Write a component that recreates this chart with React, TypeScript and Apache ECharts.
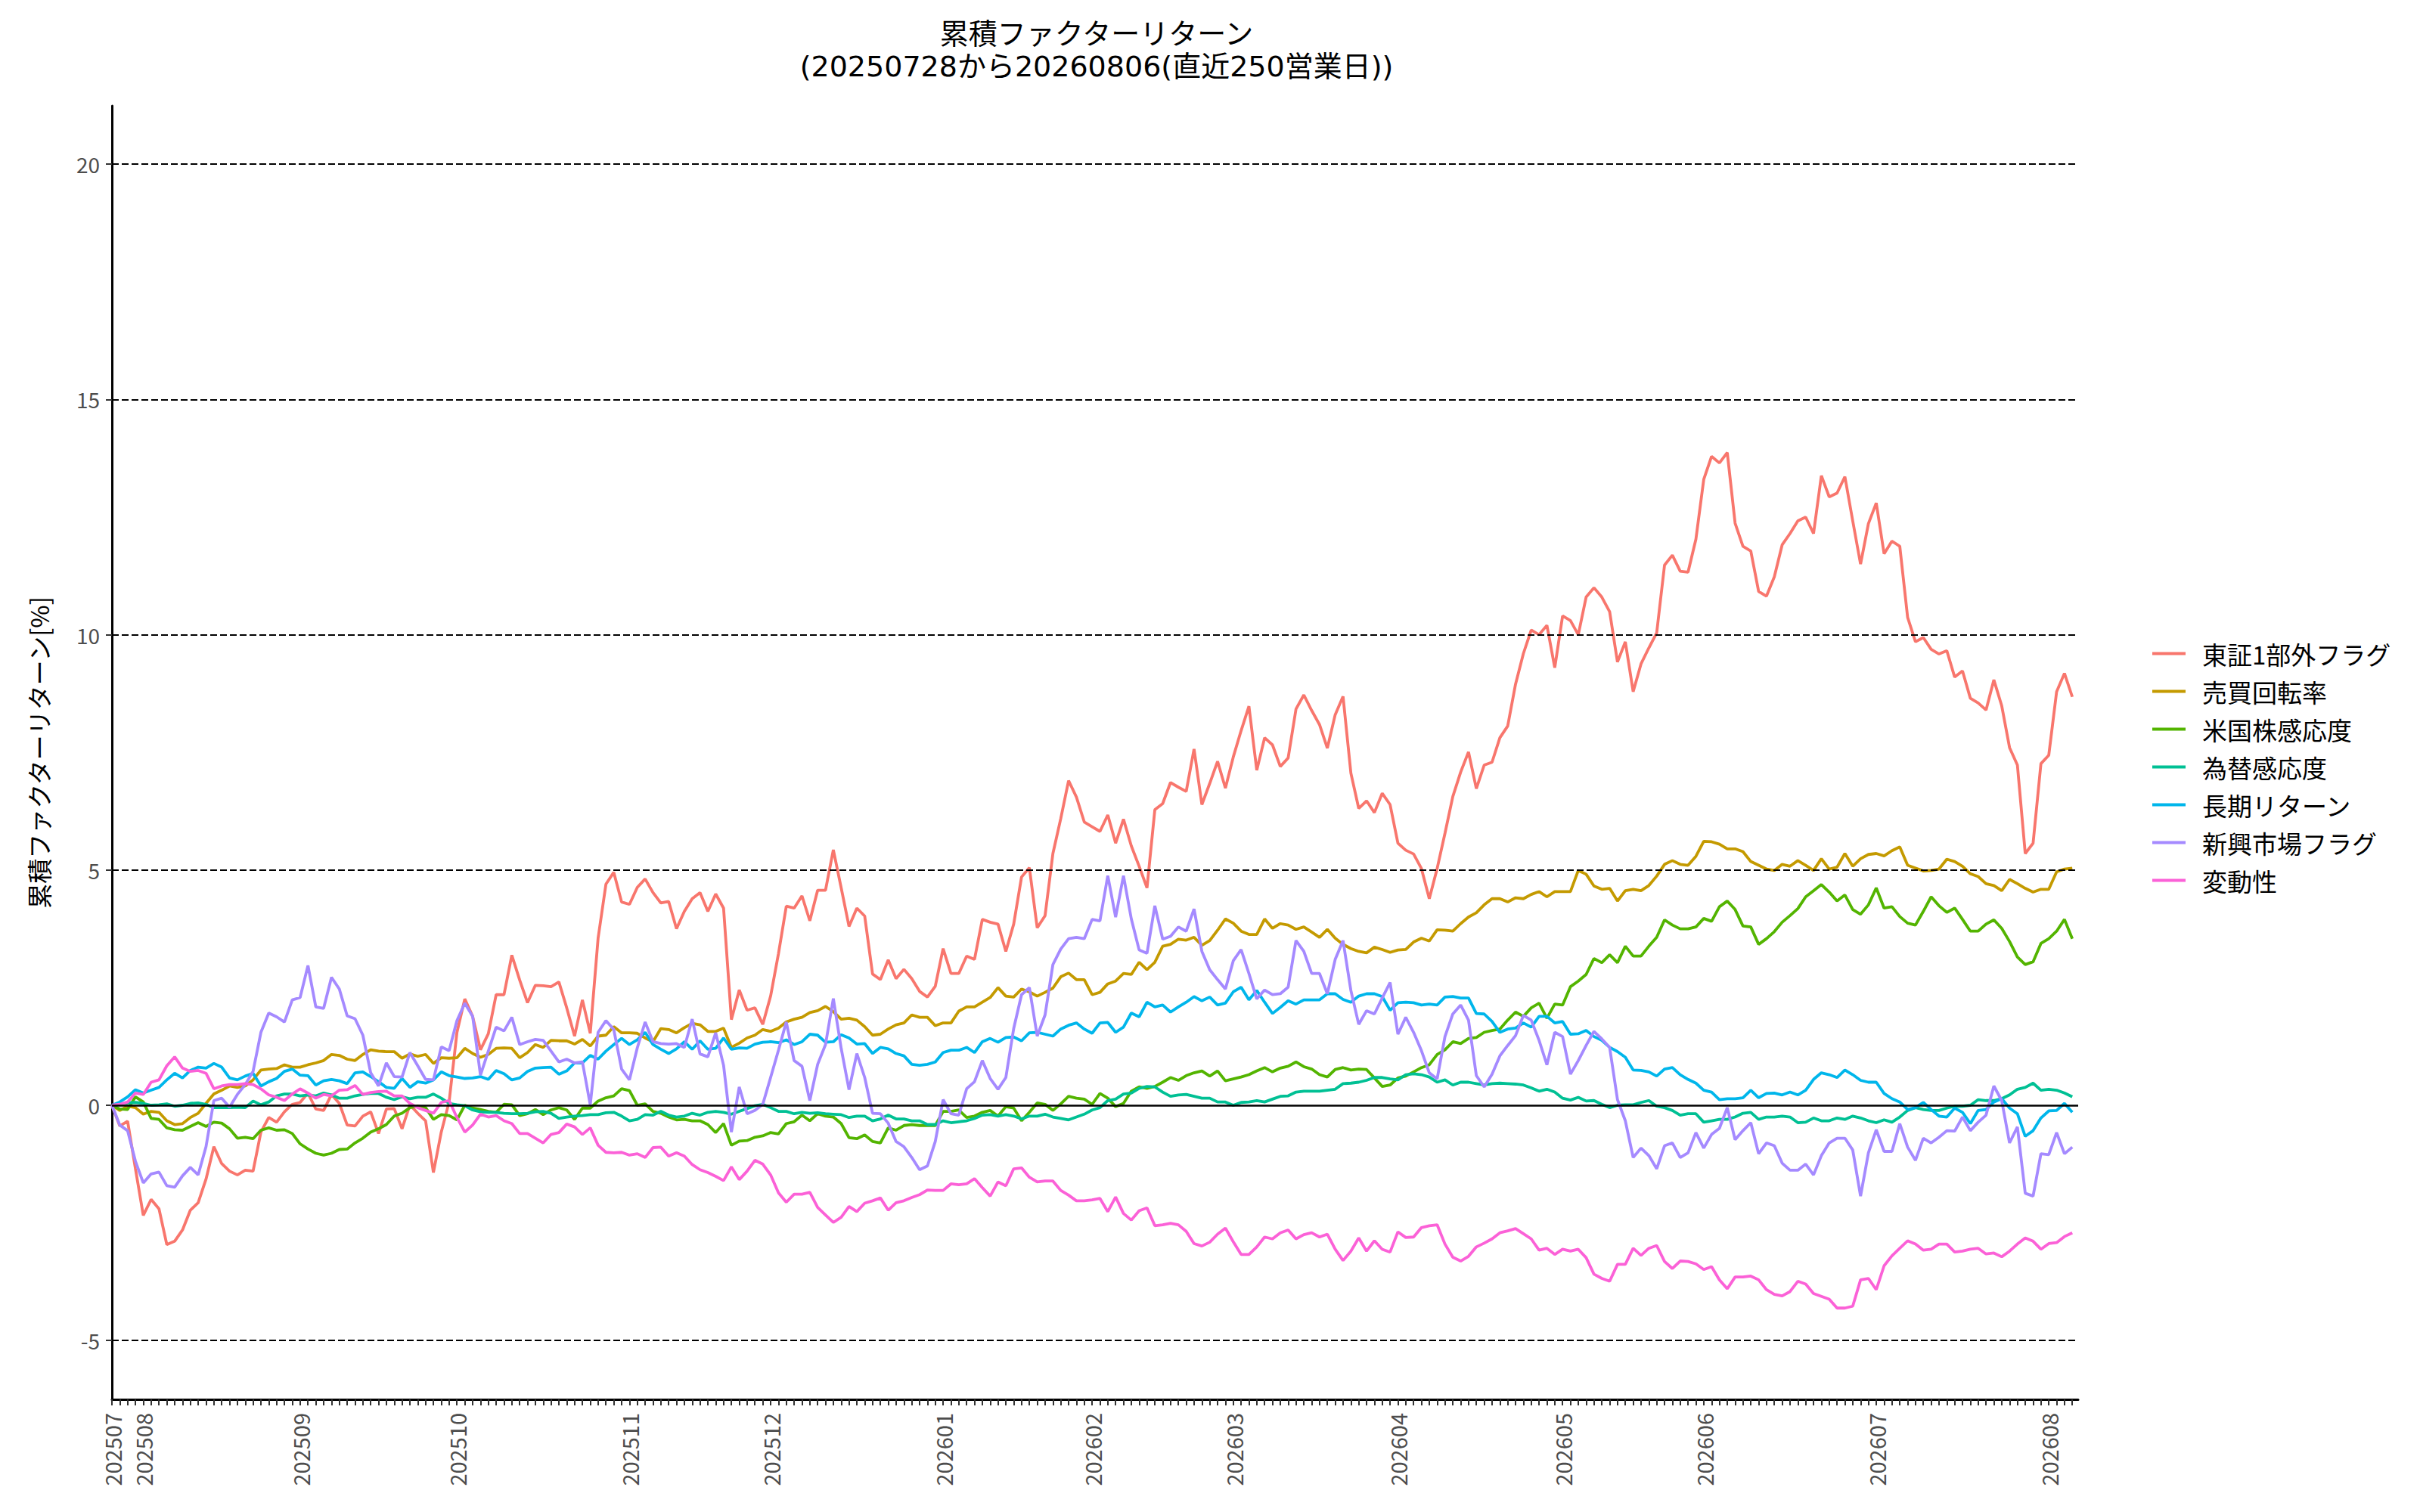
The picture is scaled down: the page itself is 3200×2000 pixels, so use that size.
import React, { useEffect, useRef } from 'react';
import * as echarts from 'echarts';

const FONT = '"Noto Sans CJK JP", "Noto Sans", sans-serif';
const TITLE_FONT = '"DejaVu Sans", "Noto Sans CJK JP", sans-serif';

const TITLE_1 = '累積ファクターリターン';
const TITLE_2 = '(20250728から20260806(直近250営業日))';
const Y_NAME = '累積ファクターリターン[%]';

const FACTORS = ['東証1部外フラグ', '売買回転率', '米国株感応度', '為替感応度', '長期リターン', '新興市場フラグ', '変動性'];
const COLORS = ['#F8766D', '#C49A00', '#53B400', '#00C094', '#00B6EB', '#A58AFF', '#FB61D7'];

const MONTH_LABELS = ['202507', '202508', '202509', '202510', '202511', '202512', '202601', '202602', '202603', '202604', '202605', '202606', '202607', '202608'];
const MONTH_DAYS = [4, 20, 20, 22, 18, 22, 19, 18, 21, 21, 18, 22, 22, 4];

const Y_TICKS = [-5, 0, 5, 10, 15, 20];
const Y_GRID = [-5, 5, 10, 15, 20];

const tosho = [
  0, -0.44, -0.34, -1.35, -2.34, -2.0, -2.2, -2.96, -2.89, -2.65,
  -2.23, -2.07, -1.57, -0.88, -1.24, -1.40, -1.48, -1.38, -1.40, -0.57,
  -0.26, -0.36, -0.14, 0.02, 0.06, 0.26, -0.08, -0.11, 0.23, 0.04,
  -0.42, -0.44, -0.23, -0.14, -0.60, -0.08, -0.07, -0.50, 0.01, -0.17,
  -0.33, -1.43, -0.57, 0.07, 1.55, 2.26, 1.89, 1.18, 1.52, 2.35,
  2.35, 3.19, 2.66, 2.18, 2.55, 2.54, 2.52, 2.62, 2.07, 1.47,
  2.24, 1.53, 3.55, 4.7,
  4.95, 4.32, 4.27, 4.63, 4.81, 4.52, 4.3, 4.33, 3.75, 4.12,
  4.39, 4.52, 4.12, 4.49, 4.19, 1.82, 2.45, 2.02, 2.07, 1.72,
  2.32, 3.22, 4.23, 4.19, 4.45, 3.92, 4.57, 4.57, 5.43, 4.62,
  3.80, 4.19, 4.02, 2.79, 2.67, 3.09, 2.69, 2.89, 2.69, 2.42,
  2.30, 2.53, 3.33, 2.80, 2.80, 3.17, 3.10, 3.95, 3.89, 3.85,
  3.27, 3.85, 4.85, 5.05, 3.77, 4.03, 5.35, 6.09, 6.9, 6.55,
  6.02, 5.92, 5.82,
  6.17, 5.57, 6.08, 5.51, 5.08, 4.62, 6.28, 6.41, 6.86, 6.76,
  6.67, 7.57, 6.39, 6.84, 7.31, 6.74, 7.40, 7.96, 8.48, 7.12,
  7.81, 7.66, 7.20, 7.38, 8.42, 8.72, 8.39, 8.09, 7.59, 8.30,
  8.69, 7.06, 6.31, 6.47, 6.22, 6.63, 6.39, 5.57, 5.42, 5.34,
  5.03, 4.39, 5.03, 5.78, 6.56, 7.08, 7.51, 6.73, 7.23, 7.29,
  7.81, 8.06, 8.95, 9.60,
  10.1, 10.0, 10.2, 9.3, 10.4, 10.3, 10.0, 10.8, 11.0, 10.8,
  10.49, 9.42, 9.85, 8.79, 9.38, 9.72, 10.04, 11.48, 11.69, 11.35,
  11.33, 12.03, 13.30, 13.79, 13.65, 13.87, 12.37, 11.88, 11.78, 10.92,
  10.82, 11.23, 11.91, 12.15, 12.42, 12.50, 12.15, 13.38, 12.93, 13.01,
  13.36, 12.42, 11.50, 12.36, 12.80, 11.72, 11.99, 11.88, 10.37, 9.85,
  9.94, 9.69, 9.59, 9.66, 9.10, 9.23, 8.65, 8.55, 8.40, 9.04,
  8.49, 7.60, 7.23, 5.35, 5.57, 7.26, 7.44, 8.79, 9.18, 8.68,
];

const baibai = [
  0, -0.11, -0.02, -0.05, -0.19, -0.13, -0.15, -0.33, -0.41, -0.39,
  -0.26, -0.17, 0.04, 0.24, 0.32, 0.41, 0.38, 0.41, 0.54, 0.75,
  0.77, 0.78, 0.86, 0.81, 0.81, 0.86, 0.90, 0.95, 1.08, 1.06,
  0.98, 0.95, 1.08, 1.18, 1.15, 1.14, 1.14, 1.0, 1.09, 1.04,
  1.08, 0.89, 1.01, 1.0, 1.01, 1.21, 1.10, 1.02, 1.08, 1.21,
  1.22, 1.21, 1.01, 1.12, 1.29, 1.23, 1.38, 1.37, 1.37, 1.30,
  1.40, 1.26, 1.47, 1.49,
  1.67, 1.54, 1.54, 1.53, 1.43, 1.35, 1.63, 1.61, 1.54, 1.65,
  1.74, 1.71, 1.57, 1.57, 1.64, 1.23, 1.32, 1.43, 1.49, 1.61,
  1.57, 1.64, 1.77, 1.83, 1.87, 1.97, 2.01, 2.10, 1.99, 1.83,
  1.85, 1.81, 1.67, 1.49, 1.51, 1.62, 1.71, 1.75, 1.92, 1.87,
  1.87, 1.69, 1.75, 1.75, 2.0, 2.09, 2.09, 2.19, 2.29, 2.5,
  2.32, 2.30, 2.47, 2.41, 2.32, 2.40, 2.49, 2.73, 2.81, 2.67,
  2.67, 2.35, 2.40,
  2.58, 2.64, 2.80, 2.78, 3.04, 2.88, 3.04, 3.38, 3.42, 3.53,
  3.51, 3.57, 3.40, 3.50, 3.72, 3.96, 3.87, 3.70, 3.63, 3.63,
  3.96, 3.76, 3.86, 3.83, 3.74, 3.79, 3.68, 3.57, 3.74, 3.55,
  3.42, 3.33, 3.27, 3.24, 3.36, 3.31, 3.25, 3.30, 3.31, 3.47,
  3.55, 3.49, 3.73, 3.72, 3.70, 3.86, 4.0, 4.09, 4.26, 4.39,
  4.39, 4.32, 4.41, 4.39, 4.48, 4.54, 4.43, 4.54, 4.54, 4.54,
  4.99, 4.91, 4.66, 4.59,
  4.61, 4.34, 4.56, 4.59, 4.56, 4.67, 4.87, 5.12, 5.20, 5.12,
  5.10, 5.29, 5.61, 5.60, 5.55, 5.45, 5.45, 5.39, 5.18, 5.10,
  5.02, 4.99, 5.12, 5.08, 5.20, 5.10, 4.99, 5.24, 5.02, 5.06,
  5.35, 5.08, 5.24, 5.33, 5.35, 5.30, 5.41, 5.49, 5.10, 5.04,
  4.98, 4.99, 5.02, 5.23, 5.18, 5.08, 4.92, 4.86, 4.71, 4.67,
  4.56, 4.80, 4.71, 4.61, 4.53, 4.59, 4.59, 4.96, 5.02, 5.04,
];

const beikoku = [
  0, -0.08, -0.09, 0.18, 0.07, -0.28, -0.30, -0.48, -0.52, -0.53,
  -0.45, -0.37, -0.45, -0.36, -0.38, -0.50, -0.70, -0.68, -0.71, -0.53,
  -0.48, -0.53, -0.52, -0.60, -0.82, -0.93, -1.02, -1.06, -1.02, -0.94,
  -0.93, -0.80, -0.70, -0.57, -0.50, -0.41, -0.23, -0.17, -0.05, -0.02,
  -0.05, -0.30, -0.20, -0.22, -0.31, 0, -0.06, -0.09, -0.13, -0.15,
  0.02, 0.01, -0.22, -0.18, -0.09, -0.20, -0.10, -0.05, -0.10, -0.30,
  -0.06, -0.06, 0.09, 0.16,
  0.2, 0.35, 0.31, 0.0, 0.03, -0.13, -0.17, -0.25, -0.31, -0.30,
  -0.33, -0.33, -0.41, -0.58, -0.39, -0.85, -0.76, -0.75, -0.68, -0.65,
  -0.58, -0.61, -0.39, -0.35, -0.21, -0.33, -0.18, -0.23, -0.25, -0.39,
  -0.69, -0.71, -0.63, -0.77, -0.80, -0.48, -0.53, -0.43, -0.41, -0.43,
  -0.43, -0.43, -0.13, -0.13, -0.10, -0.26, -0.23, -0.15, -0.11, -0.23,
  -0.03, -0.06, -0.33, -0.15, 0.05, 0.02, -0.11, 0.03, 0.19, 0.15,
  0.13, 0.02, 0.25,
  0.15, -0.03, 0.04, 0.30, 0.39, 0.36, 0.40, 0.49, 0.59, 0.53,
  0.63, 0.69, 0.73, 0.62, 0.73, 0.52, 0.56, 0.60, 0.65, 0.73,
  0.80, 0.71, 0.79, 0.83, 0.92, 0.82, 0.77, 0.65, 0.60, 0.76,
  0.80, 0.75, 0.77, 0.76, 0.58, 0.40, 0.43, 0.58, 0.62, 0.71,
  0.80, 0.86, 1.08, 1.18, 1.35, 1.31, 1.42, 1.44, 1.55, 1.59,
  1.62, 1.81, 1.98, 1.89, 2.07, 2.17, 1.85, 2.15, 2.13, 2.52,
  2.64, 2.78, 3.12, 3.03,
  3.20, 3.03, 3.38, 3.17, 3.17, 3.38, 3.57, 3.94, 3.83, 3.75,
  3.75, 3.79, 3.97, 3.91, 4.22, 4.34, 4.16, 3.81, 3.79, 3.42,
  3.54, 3.69, 3.89, 4.03, 4.18, 4.43, 4.56, 4.69, 4.53, 4.34,
  4.47, 4.16, 4.06, 4.26, 4.62, 4.19, 4.22, 4.01, 3.87, 3.83,
  4.12, 4.43, 4.24, 4.10, 4.19, 3.95, 3.70, 3.70, 3.85, 3.94,
  3.76, 3.48, 3.15, 2.99, 3.05, 3.44, 3.54, 3.70, 3.95, 3.54,
];

const kawase = [
  0, 0.02, 0.05, 0.06, 0.04, 0.0, 0.01, 0.03, -0.02, 0.0,
  0.04, 0.05, 0.02, -0.05, -0.05, -0.05, -0.04, -0.05, 0.09, 0.01,
  0.07, 0.2, 0.24, 0.24, 0.20, 0.22, 0.20, 0.26, 0.22, 0.15,
  0.15, 0.20, 0.23, 0.25, 0.25, 0.17, 0.12, 0.18, 0.14, 0.17,
  0.17, 0.24, 0.15, 0.04, 0.01, -0.01, -0.10, -0.14, -0.15, -0.15,
  -0.17, -0.18, -0.18, -0.17, -0.14, -0.13, -0.17, -0.28, -0.25, -0.23,
  -0.22, -0.20, -0.20, -0.16,
  -0.15, -0.23, -0.33, -0.30, -0.20, -0.21, -0.13, -0.21, -0.25, -0.23,
  -0.17, -0.21, -0.15, -0.13, -0.15, -0.19, -0.13, -0.07, -0.01, 0.02,
  -0.05, -0.13, -0.13, -0.18, -0.15, -0.17, -0.16, -0.18, -0.19, -0.20,
  -0.26, -0.23, -0.23, -0.33, -0.29, -0.21, -0.29, -0.29, -0.33, -0.33,
  -0.41, -0.41, -0.33, -0.37, -0.35, -0.33, -0.28, -0.21, -0.20, -0.23,
  -0.20, -0.23, -0.29, -0.23, -0.23, -0.19, -0.25, -0.28, -0.31, -0.25,
  -0.19, -0.10, -0.05,
  0.10, 0.13, 0.24, 0.26, 0.36, 0.40, 0.39, 0.28, 0.19, 0.22,
  0.23, 0.19, 0.15, 0.15, 0.07, 0.07, 0.0, 0.06, 0.07, 0.10,
  0.07, 0.13, 0.19, 0.20, 0.28, 0.30, 0.30, 0.30, 0.32, 0.34,
  0.46, 0.47, 0.49, 0.53, 0.59, 0.59, 0.56, 0.54, 0.65, 0.67,
  0.65, 0.60, 0.49, 0.54, 0.43, 0.49, 0.49, 0.46, 0.43, 0.46,
  0.47, 0.46, 0.45, 0.43, 0.37, 0.30, 0.34, 0.28, 0.15, 0.11,
  0.17, 0.09, 0.10, 0.02,
  -0.05, 0.0, 0.01, 0.01, 0.06, 0.10, -0.02, -0.05, -0.11, -0.21,
  -0.18, -0.18, -0.36, -0.33, -0.30, -0.30, -0.25, -0.17, -0.15, -0.30,
  -0.25, -0.25, -0.23, -0.25, -0.37, -0.36, -0.27, -0.33, -0.33, -0.27,
  -0.30, -0.23, -0.27, -0.33, -0.37, -0.31, -0.36, -0.25, -0.11, -0.05,
  -0.09, -0.11, -0.11, -0.06, -0.02, -0.02, 0.0, 0.12, 0.10, 0.10,
  0.14, 0.22, 0.34, 0.38, 0.47, 0.32, 0.34, 0.32, 0.26, 0.18,
];

const choki = [
  0, 0.07, 0.18, 0.33, 0.26, 0.32, 0.38, 0.54, 0.68, 0.58,
  0.74, 0.81, 0.79, 0.89, 0.81, 0.58, 0.54, 0.62, 0.68, 0.41,
  0.50, 0.57, 0.72, 0.77, 0.64, 0.63, 0.43, 0.52, 0.55, 0.52,
  0.46, 0.69, 0.71, 0.61, 0.50, 0.38, 0.36, 0.57, 0.38, 0.50,
  0.47, 0.54, 0.71, 0.63, 0.60, 0.57, 0.58, 0.61, 0.55, 0.74,
  0.67, 0.54, 0.58, 0.72, 0.79, 0.80, 0.81, 0.66, 0.73, 0.90,
  0.90, 1.06, 0.98, 1.15,
  1.29, 1.42, 1.29, 1.39, 1.55, 1.29, 1.19, 1.10, 1.20, 1.35,
  1.19, 1.37, 1.19, 1.21, 1.43, 1.19, 1.22, 1.21, 1.30, 1.34,
  1.35, 1.33, 1.39, 1.29, 1.35, 1.51, 1.49, 1.34, 1.35, 1.50,
  1.43, 1.30, 1.31, 1.10, 1.23, 1.20, 1.10, 1.05, 0.87, 0.85,
  0.87, 0.92, 1.12, 1.17, 1.17, 1.23, 1.12, 1.35, 1.42, 1.34,
  1.44, 1.45, 1.37, 1.54, 1.55, 1.51, 1.47, 1.62, 1.70, 1.75,
  1.62, 1.53, 1.75,
  1.76, 1.55, 1.66, 1.96, 1.88, 2.19, 2.09, 2.13, 1.98, 2.09,
  2.19, 2.31, 2.22, 2.30, 2.13, 2.17, 2.41, 2.51, 2.24, 2.44,
  2.19, 1.95, 2.08, 2.22, 2.15, 2.24, 2.24, 2.24, 2.37, 2.37,
  2.25, 2.19, 2.32, 2.37, 2.37, 2.31, 2.02, 2.18, 2.19, 2.18,
  2.13, 2.15, 2.13, 2.30, 2.31, 2.28, 2.28, 1.95, 1.94, 1.78,
  1.55, 1.62, 1.64, 1.75, 1.66, 1.89, 1.89, 1.75, 1.78, 1.51,
  1.52, 1.59, 1.46, 1.38,
  1.23, 1.14, 1.02, 0.75, 0.74, 0.71, 0.62, 0.77, 0.80, 0.65,
  0.55, 0.47, 0.32, 0.28, 0.12, 0.14, 0.14, 0.16, 0.32, 0.16,
  0.25, 0.26, 0.22, 0.28, 0.22, 0.32, 0.55, 0.69, 0.65, 0.59,
  0.75, 0.65, 0.53, 0.49, 0.49, 0.25, 0.14, 0.07, -0.09, -0.05,
  0.06, -0.09, -0.23, -0.25, -0.06, -0.15, -0.39, -0.11, -0.09, 0.07,
  0.14, -0.06, -0.18, -0.66, -0.54, -0.27, -0.12, -0.11, 0.04, -0.15,
];

const shinko = [
  0, -0.42, -0.54, -1.19, -1.65, -1.46, -1.42, -1.71, -1.74, -1.50,
  -1.32, -1.48, -0.88, 0.10, 0.15, -0.04, 0.23, 0.44, 0.72, 1.55,
  1.96, 1.88, 1.77, 2.24, 2.29, 2.97, 2.09, 2.06, 2.72, 2.47,
  1.90, 1.84, 1.49, 0.69, 0.41, 0.90, 0.61, 0.60, 1.12, 0.84,
  0.55, 0.54, 1.24, 1.16, 1.80, 2.17, 1.89, 0.64, 1.15, 1.66,
  1.58, 1.87, 1.29, 1.35, 1.40, 1.38, 1.15, 0.92, 0.98, 0.90,
  0.92, 0.01, 1.55, 1.8,
  1.61, 0.77, 0.54, 1.22, 1.77, 1.35, 1.31, 1.30, 1.31, 1.23,
  1.83, 1.09, 1.03, 1.54, 0.85, -0.57, 0.39, -0.18, -0.11, 0.02,
  0.59, 1.17, 1.77, 0.95, 0.83, 0.10, 0.87, 1.29, 2.27, 1.21,
  0.33, 1.10, 0.59, -0.17, -0.18, -0.38, -0.77, -0.88, -1.11, -1.37,
  -1.29, -0.77, 0.12, -0.18, -0.21, 0.35, 0.50, 0.95, 0.57, 0.34,
  0.59, 1.63, 2.35, 2.50, 1.47, 1.92, 2.99, 3.32, 3.54, 3.57,
  3.54, 3.95, 3.92,
  4.88, 4.00, 4.88, 3.96, 3.30, 3.23, 4.24, 3.53, 3.59, 3.79,
  3.70, 4.17, 3.27, 2.88, 2.67, 2.47, 3.07, 3.31, 2.80, 2.26,
  2.45, 2.35, 2.37, 2.51, 3.50, 3.27, 2.80, 2.80, 2.37, 3.10,
  3.50, 2.44, 1.72, 2.01, 1.94, 2.28, 2.61, 1.51, 1.87, 1.55,
  1.16, 0.69, 0.56, 1.46, 1.94, 2.13, 1.81, 0.63, 0.39, 0.66,
  1.05, 1.27, 1.48, 1.91, 1.81, 1.38, 0.86, 1.55, 1.46, 0.66,
  0.95, 1.27, 1.57, 1.41,
  1.23, 0.12, -0.33, -1.11, -0.91, -1.07, -1.35, -0.86, -0.80, -1.11,
  -1.01, -0.58, -0.91, -0.62, -0.49, -0.05, -0.73, -0.54, -0.37, -1.03,
  -0.80, -0.86, -1.23, -1.38, -1.38, -1.25, -1.48, -1.07, -0.80, -0.70,
  -0.70, -0.95, -1.93, -1.01, -0.52, -0.98, -0.98, -0.39, -0.89, -1.17,
  -0.70, -0.80, -0.68, -0.54, -0.55, -0.25, -0.54, -0.36, -0.21, 0.41,
  0.10, -0.80, -0.46, -1.87, -1.93, -1.03, -1.05, -0.58, -1.03, -0.89,
];

const hendo = [
  0, 0.02, 0.07, 0.26, 0.23, 0.49, 0.54, 0.84, 1.03, 0.79,
  0.72, 0.74, 0.68, 0.35, 0.41, 0.44, 0.44, 0.46, 0.44, 0.35,
  0.22, 0.17, 0.10, 0.24, 0.35, 0.26, 0.15, 0.23, 0.20, 0.32,
  0.33, 0.42, 0.23, 0.27, 0.29, 0.30, 0.20, 0.20, 0.04, -0.05,
  -0.11, -0.17, 0.06, 0.10, -0.26, -0.57, -0.42, -0.19, -0.25, -0.22,
  -0.33, -0.39, -0.60, -0.60, -0.70, -0.80, -0.62, -0.58, -0.40, -0.46,
  -0.62, -0.48, -0.85, -1.0,
  -1.01, -1.0, -1.06, -1.03, -1.11, -0.90, -0.89, -1.08, -1.01, -1.08,
  -1.26, -1.37, -1.43, -1.51, -1.60, -1.31, -1.58, -1.40, -1.17, -1.25,
  -1.48, -1.86, -2.06, -1.89, -1.89, -1.85, -2.17, -2.33, -2.49, -2.38,
  -2.15, -2.26, -2.08, -2.03, -1.97, -2.23, -2.07, -2.03, -1.96, -1.90,
  -1.80, -1.81, -1.81, -1.67, -1.69, -1.67, -1.56, -1.75, -1.93, -1.63,
  -1.71, -1.35, -1.33, -1.53, -1.63, -1.61, -1.61, -1.81, -1.91, -2.03,
  -2.03, -2.01, -1.98,
  -2.26, -1.95, -2.30, -2.44, -2.24, -2.18, -2.56, -2.54, -2.51, -2.54,
  -2.68, -2.94, -2.99, -2.91, -2.74, -2.61, -2.90, -3.17, -3.17, -3.01,
  -2.80, -2.84, -2.71, -2.65, -2.84, -2.75, -2.71, -2.80, -2.74, -3.06,
  -3.30, -3.10, -2.82, -3.10, -2.88, -3.06, -3.12, -2.69, -2.81, -2.80,
  -2.60, -2.56, -2.54, -2.95, -3.23, -3.31, -3.21, -3.01, -2.93, -2.84,
  -2.71, -2.67, -2.62, -2.73, -2.84, -3.08, -3.04, -3.17, -3.06, -3.10,
  -3.06, -3.24, -3.59, -3.68,
  -3.74, -3.38, -3.38, -3.04, -3.19, -3.04, -2.98, -3.32, -3.47, -3.31,
  -3.32, -3.37, -3.49, -3.43, -3.71, -3.90, -3.65, -3.65, -3.63, -3.71,
  -3.92, -4.02, -4.05, -3.96, -3.74, -3.80, -4.0, -4.06, -4.12, -4.31,
  -4.31, -4.27, -3.71, -3.68, -3.92, -3.41, -3.20, -3.04, -2.88, -2.95,
  -3.08, -3.06, -2.95, -2.95, -3.12, -3.10, -3.06, -3.04, -3.16, -3.14,
  -3.22, -3.10, -2.95, -2.82, -2.89, -3.06, -2.94, -2.92, -2.79, -2.71,
];

const SERIES_VALUES = [tosho, baibai, beikoku, kawase, choki, shinko, hendo];

export default function App() {
  const ref = useRef<HTMLDivElement>(null);

  useEffect(() => {
    document.body.style.margin = '0';
    if (!ref.current) return;
    const chart = echarts.init(ref.current, null, { renderer: 'svg' });

    const monthStarts: number[] = [];
    const labelMap: Record<number, string> = {};
    let acc = 0;
    MONTH_DAYS.forEach((d, k) => {
      monthStarts.push(acc);
      labelMap[acc] = MONTH_LABELS[k];
      acc += d;
    });
    const totalDays = acc;
    const dayTicks: number[] = [];
    for (let i = 0; i < totalDays; i++) dayTicks.push(i);

    const lineSeries = FACTORS.map((name, k) => ({
      type: 'line',
      name,
      data: SERIES_VALUES[k].map((v, i) => [i, v]),
      symbol: 'none',
      showSymbol: false,
      lineStyle: { width: 3.8, color: COLORS[k] },
      itemStyle: { color: COLORS[k] },
      z: 3,
      silent: true,
    }));

    const titleStyle = { fontSize: 38, lineHeight: 43, fontWeight: 'normal', color: '#000', fontFamily: TITLE_FONT };

    const option: any = {
      animation: false,
      backgroundColor: '#ffffff',
      textStyle: { fontFamily: FONT },
      title: {
        text: TITLE_1,
        subtext: TITLE_2,
        left: 1450,
        top: 23,
        textAlign: 'center',
        padding: 0,
        itemGap: 0,
        textStyle: titleStyle,
        subtextStyle: titleStyle,
      },
      legend: {
        data: FACTORS,
        orient: 'vertical',
        left: 2846,
        top: 848,
        padding: 0,
        itemWidth: 44,
        itemHeight: 4,
        itemGap: 17,
        icon: 'rect',
        selectedMode: false,
        textStyle: { fontSize: 33, lineHeight: 33, color: '#000', fontFamily: FONT, padding: [0, 0, 0, 17] },
      },
      grid: { left: 148, top: 140, width: 2600, height: 1711, containLabel: false, outerBoundsMode: 'none' },
      xAxis: {
        type: 'value',
        min: 0,
        max: totalDays - 1 + 0.75,
        axisLine: { show: true, onZero: false, lineStyle: { color: '#000', width: 3 } },
        axisTick: { show: true, length: 8, customValues: dayTicks, lineStyle: { color: '#333', width: 2 } },
        axisLabel: {
          customValues: monthStarts,
          formatter: (v: number) => labelMap[Math.round(v)] ?? '',
          rotate: 90,
          margin: 18,
          fontSize: 29,
          color: '#4d4d4d',
          fontFamily: FONT,
        },
        splitLine: { show: false },
      },
      yAxis: {
        type: 'value',
        min: -6.25,
        max: 21.24,
        name: Y_NAME,
        nameLocation: 'middle',
        nameRotate: 90,
        nameGap: 81,
        nameTextStyle: { fontSize: 33, color: '#000', fontFamily: FONT },
        axisLine: { show: true, onZero: false, lineStyle: { color: '#000', width: 3 } },
        axisTick: { show: true, length: 8, customValues: Y_TICKS, lineStyle: { color: '#333', width: 2 } },
        axisLabel: { customValues: Y_TICKS, margin: 16, fontSize: 28, color: '#4d4d4d', fontFamily: FONT },
        splitLine: { show: false },
      },
      series: [
        {
          type: 'line',
          name: 'gridlines',
          data: [[0, 0]],
          symbol: 'none',
          lineStyle: { opacity: 0 },
          silent: true,
          z: 1,
          markLine: {
            silent: true,
            symbol: 'none',
            label: { show: false },
            lineStyle: { color: '#000', width: 2, type: [9, 4] },
            data: Y_GRID.map((v) => ({ yAxis: v })),
          },
        },
        ...lineSeries,
        {
          type: 'line',
          name: 'zeroline',
          data: [[0, 0]],
          symbol: 'none',
          lineStyle: { opacity: 0 },
          silent: true,
          z: 5,
          markLine: {
            silent: true,
            symbol: 'none',
            label: { show: false },
            lineStyle: { color: '#000', width: 2.5, type: 'solid' },
            data: [{ yAxis: 0 }],
          },
        },
      ],
    };

    chart.setOption(option);
    return () => chart.dispose();
  }, []);

  return <div ref={ref} style={{ width: 3200, height: 2000 }} />;
}
